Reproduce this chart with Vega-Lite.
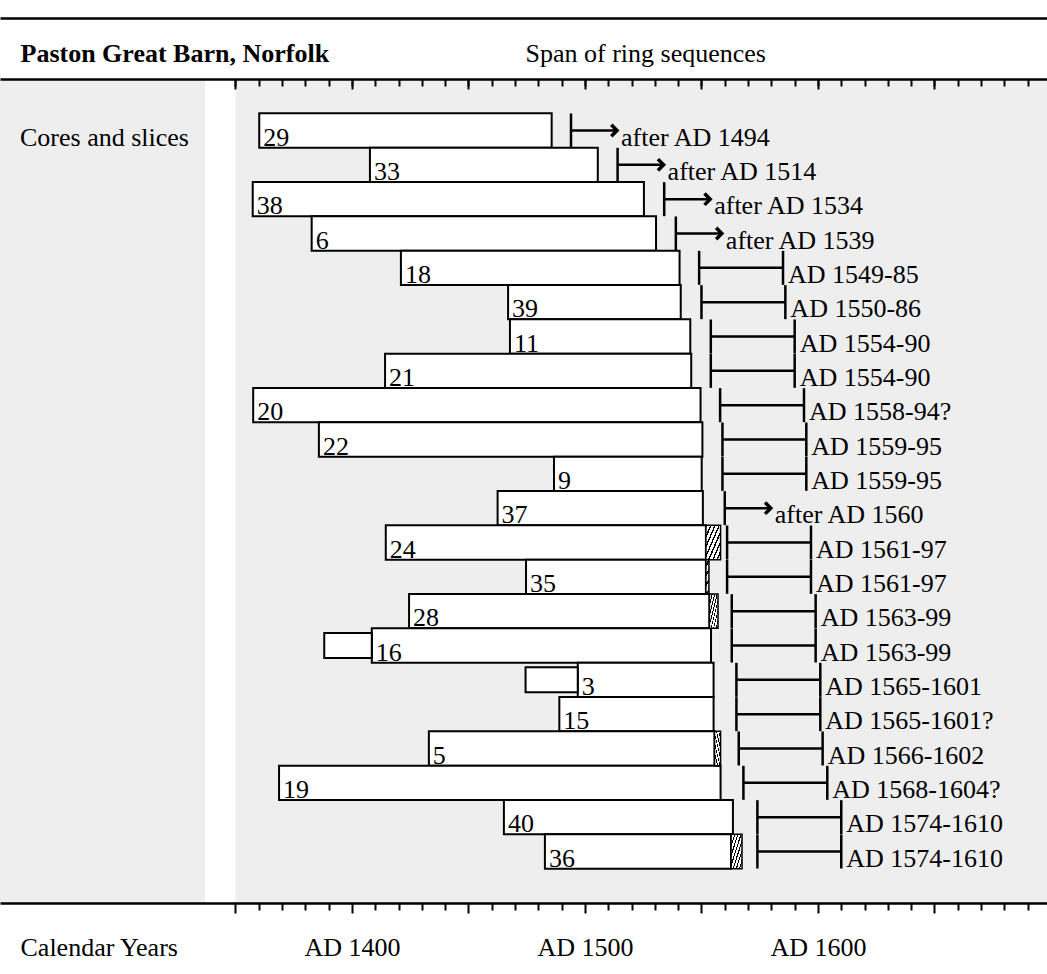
{
  "$schema": "https://vega.github.io/schema/vega-lite/v6.json",
  "width": 1047,
  "height": 824,
  "autosize": {"type": "none"},
  "padding": {"left": 0, "top": 79, "right": 0, "bottom": 71},
  "background": "white",
  "config": {"view": {"stroke": null}, "font": "Liberation Serif", "axis": {"grid": false}},
  "data": {"values": [
    {"id": "29", "start": 1360.2, "end": 1485.7, "from": 1494, "kind": "after", "label": "after AD 1494"},
    {"id": "33", "start": 1407.7, "end": 1505.5, "from": 1514, "kind": "after", "label": "after AD 1514"},
    {"id": "38", "start": 1357.4, "end": 1525.3, "from": 1534, "kind": "after", "label": "after AD 1534"},
    {"id": "6", "start": 1382.7, "end": 1530.5, "from": 1539, "kind": "after", "label": "after AD 1539"},
    {"id": "18", "start": 1421.0, "end": 1540.6, "from": 1549, "to": 1585, "kind": "range", "label": "AD 1549-85"},
    {"id": "39", "start": 1467.0, "end": 1541.1, "from": 1550, "to": 1586, "kind": "range", "label": "AD 1550-86"},
    {"id": "11", "start": 1467.8, "end": 1545.2, "from": 1554, "to": 1590, "kind": "range", "label": "AD 1554-90"},
    {"id": "21", "start": 1414.2, "end": 1545.6, "from": 1554, "to": 1590, "kind": "range", "label": "AD 1554-90"},
    {"id": "20", "start": 1357.6, "end": 1549.6, "from": 1558, "to": 1594, "kind": "range", "label": "AD 1558-94?"},
    {"id": "22", "start": 1385.8, "end": 1550.4, "from": 1559, "to": 1595, "kind": "range", "label": "AD 1559-95"},
    {"id": "9", "start": 1486.7, "end": 1550.1, "from": 1559, "to": 1595, "kind": "range", "label": "AD 1559-95"},
    {"id": "37", "start": 1462.5, "end": 1550.6, "from": 1560, "kind": "after", "label": "after AD 1560"},
    {"id": "24", "start": 1414.5, "end": 1551.9, "sap": 1558.2, "from": 1561, "to": 1597, "kind": "range", "label": "AD 1561-97"},
    {"id": "35", "start": 1474.7, "end": 1551.9, "sap": 1553.2, "from": 1561, "to": 1597, "kind": "range", "label": "AD 1561-97"},
    {"id": "28", "start": 1424.5, "end": 1553.4, "sap": 1557.1, "from": 1563, "to": 1599, "kind": "range", "label": "AD 1563-99"},
    {"id": "16", "start": 1408.5, "end": 1554.1, "pre0": 1388.1, "pre1": 1408.5, "from": 1563, "to": 1599, "kind": "range", "label": "AD 1563-99"},
    {"id": "3", "start": 1496.9, "end": 1555.2, "pre0": 1474.5, "pre1": 1496.9, "from": 1565, "to": 1601, "kind": "range", "label": "AD 1565-1601"},
    {"id": "15", "start": 1489.0, "end": 1555.2, "from": 1565, "to": 1601, "kind": "range", "label": "AD 1565-1601?"},
    {"id": "5", "start": 1433.0, "end": 1555.6, "sap": 1558.2, "from": 1566, "to": 1602, "kind": "range", "label": "AD 1566-1602"},
    {"id": "19", "start": 1368.7, "end": 1558.2, "from": 1568, "to": 1604, "kind": "range", "label": "AD 1568-1604?"},
    {"id": "40", "start": 1465.2, "end": 1563.5, "from": 1574, "to": 1610, "kind": "range", "label": "AD 1574-1610"},
    {"id": "36", "start": 1482.8, "end": 1562.7, "sap": 1567.4, "from": 1574, "to": 1610, "kind": "range", "label": "AD 1574-1610"}
  ]},
  "layer": [
    {
      "data": {"values": [{}]},
      "mark": {"type": "rect", "fill": "#eeeeee"},
      "encoding": {
        "x": {"datum": 1248.93, "type": "quantitative", "scale": {"domain": [1248.93, 1698.3], "nice": false, "zero": false}, "axis": null},
        "x2": {"datum": 1337}
      }
    },
    {
      "data": {"values": [{}]},
      "mark": {"type": "rect", "fill": "#eeeeee"},
      "encoding": {
        "x": {"datum": 1350, "type": "quantitative", "scale": {"domain": [1248.93, 1698.3], "nice": false, "zero": false}, "axis": null},
        "x2": {"datum": 1698.3}
      }
    },
    {
      "encoding": {
        "y": {"field": "id", "type": "nominal", "sort": null, "axis": null,
          "scale": {"domain": ["29","33","38","6","18","39","11","21","20","22","9","37","24","35","28","16","3","15","5","19","40","36"], "paddingInner": 0, "paddingOuter": 1}}
      },
      "layer": [
        {
          "mark": {"type": "rect", "fill": "white", "stroke": "black", "strokeWidth": 2},
          "encoding": {
            "x": {"field": "start", "type": "quantitative", "scale": {"domain": [1248.93, 1698.3], "nice": false, "zero": false},
              "axis": {"orient": "bottom", "zindex": 1, "values": [1350,1360,1370,1380,1390,1400,1410,1420,1430,1440,1450,1460,1470,1480,1490,1500,1510,1520,1530,1540,1550,1560,1570,1580,1590,1600,1610,1620,1630,1640,1650,1660,1670,1680,1690],
                "tickSize": {"condition": {"test": "datum.value % 50 === 0", "value": 10}, "value": 7},
                "tickWidth": 2, "tickColor": "black", "domainColor": "black", "domainWidth": 2.5,
                "labelExpr": "datum.value % 100 === 0 ? 'AD ' + datum.value : ''",
                "labelFont": "Liberation Serif", "labelFontSize": 26, "labelColor": "black", "labelBaseline": "alphabetic",
                "labelPadding": 42, "labelOverlap": false, "labelFlush": false,
                "title": "Calendar Years", "titleX": 20, "titleY": 52, "titleAlign": "left", "titleAnchor": "start", "titleBaseline": "alphabetic",
                "titleFont": "Liberation Serif", "titleFontSize": 26, "titleFontWeight": "normal", "titleColor": "black"}},
            "x2": {"field": "end"}
          }
        },
        {
          "transform": [{"filter": "datum.pre0 != null"}],
          "mark": {"type": "bar", "height": {"band": 0.73}, "fill": "white", "stroke": "black", "strokeWidth": 2},
          "encoding": {
            "x": {"field": "pre0", "type": "quantitative", "scale": {"domain": [1248.93, 1698.3], "nice": false, "zero": false}, "axis": null},
            "x2": {"field": "pre1"}
          }
        },
        {
          "transform": [{"filter": "datum.sap != null"}],
          "mark": {"type": "rect", "stroke": "black", "strokeWidth": 1.5,
            "fill": {"gradient": "linear", "x1": 0, "y1": 0, "x2": 1, "y2": 1, "stops": [
              {"offset": 0, "color": "#000"}, {"offset": 0.05, "color": "#000"}, {"offset": 0.05, "color": "#fff"}, {"offset": 0.143, "color": "#fff"},
              {"offset": 0.143, "color": "#000"}, {"offset": 0.193, "color": "#000"}, {"offset": 0.193, "color": "#fff"}, {"offset": 0.286, "color": "#fff"},
              {"offset": 0.286, "color": "#000"}, {"offset": 0.336, "color": "#000"}, {"offset": 0.336, "color": "#fff"}, {"offset": 0.429, "color": "#fff"},
              {"offset": 0.429, "color": "#000"}, {"offset": 0.479, "color": "#000"}, {"offset": 0.479, "color": "#fff"}, {"offset": 0.571, "color": "#fff"},
              {"offset": 0.571, "color": "#000"}, {"offset": 0.621, "color": "#000"}, {"offset": 0.621, "color": "#fff"}, {"offset": 0.714, "color": "#fff"},
              {"offset": 0.714, "color": "#000"}, {"offset": 0.764, "color": "#000"}, {"offset": 0.764, "color": "#fff"}, {"offset": 0.857, "color": "#fff"},
              {"offset": 0.857, "color": "#000"}, {"offset": 0.907, "color": "#000"}, {"offset": 0.907, "color": "#fff"}, {"offset": 1, "color": "#fff"}
            ]}},
          "encoding": {
            "x": {"field": "end", "type": "quantitative", "scale": {"domain": [1248.93, 1698.3], "nice": false, "zero": false}, "axis": null},
            "x2": {"field": "sap"}
          }
        },
        {
          "mark": {"type": "text", "align": "left", "baseline": "alphabetic", "dx": 4, "dy": 15, "fontSize": 26, "font": "Liberation Serif", "color": "black"},
          "encoding": {
            "x": {"field": "start", "type": "quantitative", "scale": {"domain": [1248.93, 1698.3], "nice": false, "zero": false},
              "axis": {"orient": "top", "zindex": 1, "ticks": false, "labels": false, "domainColor": "black", "domainWidth": 2.5,
                "title": "Span of ring sequences", "titleX": 525, "titleY": -18, "titleAlign": "left", "titleAnchor": "start", "titleBaseline": "alphabetic",
                "titleFont": "Liberation Serif", "titleFontSize": 26, "titleFontWeight": "normal", "titleColor": "black"}},
            "text": {"field": "id"}
          }
        },
        {
          "mark": {"type": "tick", "size": 34, "thickness": 2.5, "color": "black", "opacity": 1},
          "encoding": {
            "x": {"field": "from", "type": "quantitative", "scale": {"domain": [1248.93, 1698.3], "nice": false, "zero": false},
              "axis": {"orient": "top", "offset": 61, "zindex": 1, "ticks": false, "labels": false, "domainColor": "black", "domainWidth": 2.5,
                "title": "Paston Great Barn, Norfolk", "titleX": 20, "titleY": 43, "titleAlign": "left", "titleAnchor": "start", "titleBaseline": "alphabetic",
                "titleFont": "Liberation Serif", "titleFontSize": 26, "titleFontWeight": "bold", "titleColor": "black"}}
          }
        },
        {
          "transform": [{"filter": "datum.kind === 'range'"}],
          "mark": {"type": "tick", "size": 34, "thickness": 2.5, "color": "black", "opacity": 1},
          "encoding": {
            "x": {"field": "to", "type": "quantitative", "scale": {"domain": [1248.93, 1698.3], "nice": false, "zero": false},
              "axis": {"orient": "top", "offset": -7, "zindex": 1, "domain": false, "labels": false, "title": null, "tickSize": 7, "tickWidth": 2, "tickColor": "black",
                "values": [1350,1360,1370,1380,1390,1400,1410,1420,1430,1440,1450,1460,1470,1480,1490,1500,1510,1520,1530,1540,1550,1560,1570,1580,1590,1600,1610,1620,1630,1640,1650,1660,1670,1680,1690]}}
          }
        },
        {
          "transform": [{"filter": "datum.kind === 'range'"}],
          "mark": {"type": "rule", "strokeWidth": 2.5, "color": "black"},
          "encoding": {
            "x": {"field": "from", "type": "quantitative", "scale": {"domain": [1248.93, 1698.3], "nice": false, "zero": false},
              "axis": {"orient": "top", "offset": -10, "zindex": 1, "domain": false, "labels": false, "title": null, "tickSize": 10, "tickWidth": 2, "tickColor": "black",
                "values": [1350,1400,1450,1500,1550,1600,1650]}},
            "x2": {"field": "to"}
          }
        },
        {
          "transform": [{"filter": "datum.kind === 'after'"}],
          "mark": {"type": "rule", "strokeWidth": 2.5, "color": "black", "x2Offset": 45},
          "encoding": {
            "x": {"field": "from", "type": "quantitative", "scale": {"domain": [1248.93, 1698.3], "nice": false, "zero": false}, "axis": null},
            "x2": {"field": "from"}
          }
        },
        {
          "transform": [{"filter": "datum.kind === 'after'"}],
          "mark": {"type": "point", "shape": "M-1,-1L0,0L-1,1", "size": 130, "strokeWidth": 3.5, "xOffset": 46, "color": "black", "opacity": 1, "filled": false, "strokeJoin": "miter"},
          "encoding": {
            "x": {"field": "from", "type": "quantitative", "scale": {"domain": [1248.93, 1698.3], "nice": false, "zero": false}, "axis": null}
          }
        },
        {
          "transform": [{"filter": "datum.kind === 'range'"}],
          "mark": {"type": "text", "align": "left", "baseline": "alphabetic", "dx": 5, "dy": 15, "fontSize": 26, "font": "Liberation Serif", "color": "black"},
          "encoding": {
            "x": {"field": "to", "type": "quantitative", "scale": {"domain": [1248.93, 1698.3], "nice": false, "zero": false}, "axis": null},
            "text": {"field": "label"}
          }
        },
        {
          "transform": [{"filter": "datum.kind === 'after'"}],
          "mark": {"type": "text", "align": "left", "baseline": "alphabetic", "dx": 50, "dy": 15, "fontSize": 26, "font": "Liberation Serif", "color": "black"},
          "encoding": {
            "x": {"field": "from", "type": "quantitative", "scale": {"domain": [1248.93, 1698.3], "nice": false, "zero": false}, "axis": null},
            "text": {"field": "label"}
          }
        },
        {
          "transform": [{"filter": "datum.id === '29'"}],
          "mark": {"type": "text", "align": "left", "baseline": "alphabetic", "dy": 15, "fontSize": 26, "font": "Liberation Serif", "color": "black"},
          "encoding": {
            "x": {"datum": 1257.5, "type": "quantitative", "scale": {"domain": [1248.93, 1698.3], "nice": false, "zero": false}, "axis": null},
            "text": {"value": "Cores and slices"}
          }
        }
      ],
      "resolve": {"axis": {"x": "independent"}}
    }
  ],
  "resolve": {"axis": {"x": "independent"}}
}
